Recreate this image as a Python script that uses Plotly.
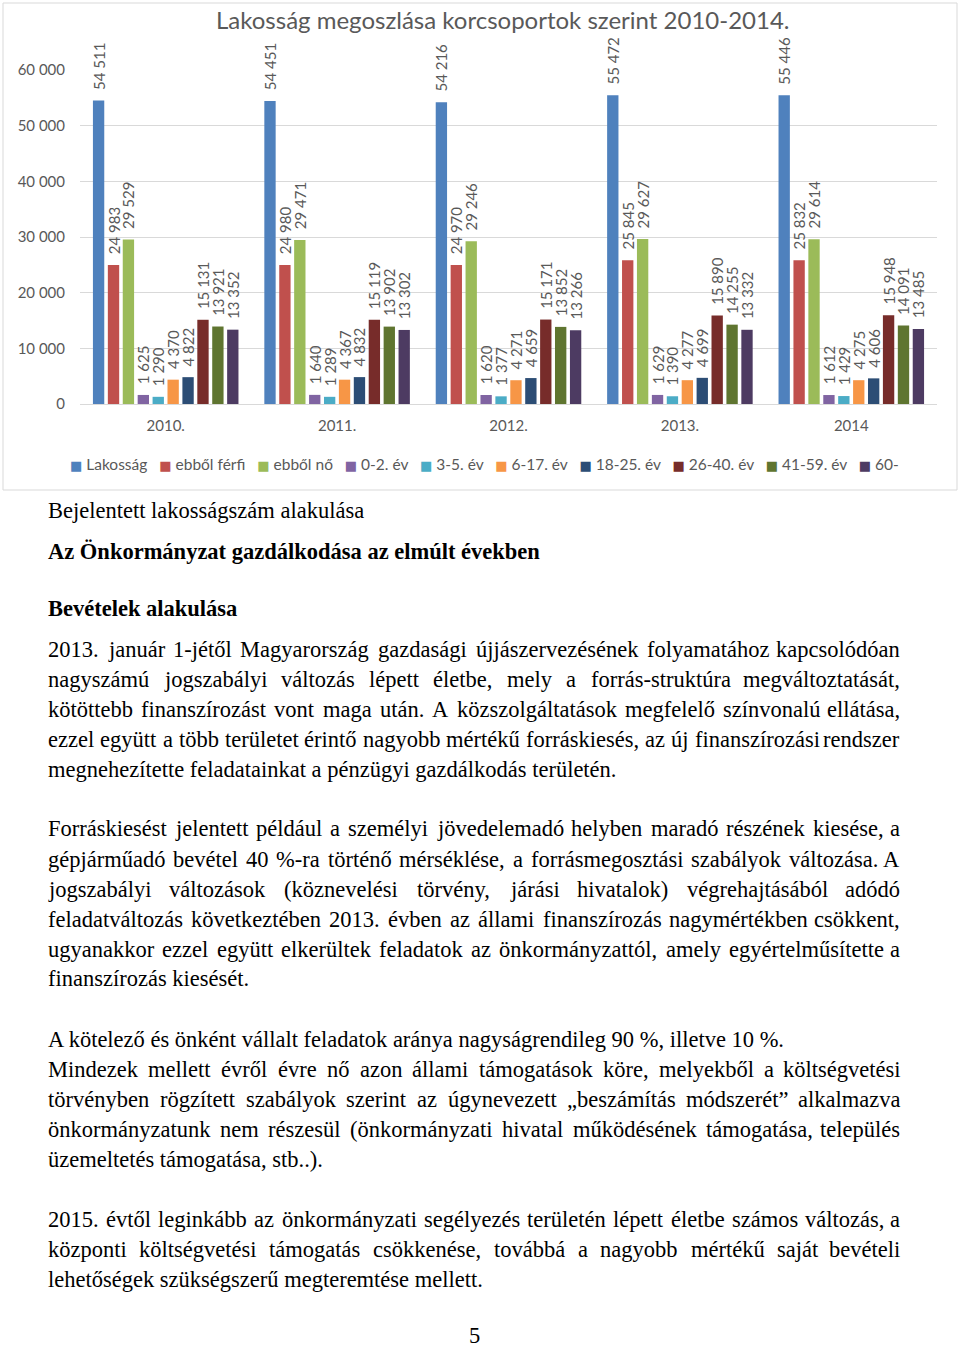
import plotly.graph_objects as go

W, H = 960, 1348

# ---------------- chart data ----------------
years = ["2010.", "2011.", "2012.", "2013.", "2014"]
series_names = ["Lakosság", "ebből férfi", "ebből nő", "0-2. év", "3-5. év",
                "6-17. év", "18-25. év", "26-40. év", "41-59. év", "60-"]
lakossag = [54511, 54451, 54216, 55472, 55446]
ferfi = [24983, 24980, 24970, 25845, 25832]
no = [29529, 29471, 29246, 29627, 29614]
ev_0_2 = [1625, 1640, 1620, 1629, 1612]
ev_3_5 = [1290, 1289, 1377, 1390, 1429]
ev_6_17 = [4370, 4367, 4271, 4277, 4275]
ev_18_25 = [4822, 4832, 4659, 4699, 4606]
ev_26_40 = [15131, 15119, 15171, 15890, 15948]
ev_41_59 = [13921, 13902, 13852, 14255, 14091]
ev_60 = [13352, 13302, 13266, 13332, 13485]
y_ticks = [0, 10000, 20000, 30000, 40000, 50000, 60000]

series_values = [lakossag, ferfi, no, ev_0_2, ev_3_5, ev_6_17, ev_18_25, ev_26_40, ev_41_59, ev_60]
colors = ["#4F81BD", "#C0504D", "#9BBB59", "#8064A2", "#4BACC6",
          "#F79646", "#2C4D75", "#772C2A", "#5F7530", "#4D3B62"]

chart_title = "Lakosság megoszlása korcsoportok szerint 2010-2014."

# ---------------- document text ----------------
heading1 = "Bejelentett lakosságszám alakulása"
heading2 = "Az Önkormányzat gazdálkodása az elmúlt években"
heading3 = "Bevételek alakulása"
paragraphs = [
    ["2013. január 1-jétől Magyarország gazdasági újjászervezésének folyamatához kapcsolódóan",
     "nagyszámú jogszabályi változás lépett életbe, mely a forrás-struktúra megváltoztatását,",
     "kötöttebb finanszírozást vont maga után. A közszolgáltatások megfelelő színvonalú ellátása,",
     "ezzel együtt a több területet érintő nagyobb mértékű forráskiesés, az új finanszírozási rendszer",
     "megnehezítette feladatainkat a pénzügyi gazdálkodás területén."],
    ["Forráskiesést jelentett például a személyi jövedelemadó helyben maradó részének kiesése, a",
     "gépjárműadó bevétel 40 %-ra történő mérséklése, a forrásmegosztási szabályok változása. A",
     "jogszabályi változások (köznevelési törvény, járási hivatalok) végrehajtásából adódó",
     "feladatváltozás következtében 2013. évben az állami finanszírozás nagymértékben csökkent,",
     "ugyanakkor ezzel együtt elkerültek feladatok az önkormányzattól, amely egyértelműsítette a",
     "finanszírozás kiesését."],
    ["A kötelező és önként vállalt feladatok aránya nagyságrendileg 90 %, illetve 10 %.",
     "Mindezek mellett évről évre nő azon állami támogatások köre, melyekből a költségvetési",
     "törvényben rögzített szabályok szerint az úgynevezett „beszámítás módszerét” alkalmazva",
     "önkormányzatunk nem részesül (önkormányzati hivatal működésének támogatása, település",
     "üzemeltetés támogatása, stb..)."],
    ["2015. évtől leginkább az önkormányzati segélyezés területén lépett életbe számos változás, a",
     "központi költségvetési támogatás csökkenése, továbbá a nagyobb mértékű saját bevételi",
     "lehetőségek szükségszerű megteremtése mellett."],
]
# lines that end a paragraph or carry a hard break are left aligned
left_aligned = {(0, 4), (1, 5), (2, 0), (2, 4), (3, 2)}
para_line_y = [[649, 679, 709, 739, 769],
               [829, 859, 889, 919, 949, 979],
               [1039, 1069, 1099, 1129, 1159],
               [1219, 1249, 1279]]
page_number = "5"

# ---------------- helpers ----------------
def px(x):
    return x / W


def py(y):
    return 1 - y / H


CHART_FONT = "Lato, 'Open Sans', sans-serif"
GRAY = "#595959"
SERIF = "Liberation Serif, Times New Roman, serif"
FS = 22.5

# Times New Roman advance widths (per 1000 em)
TW = {' ': 250, ',': 250, '.': 250, '-': 333, '(': 333, ')': 333, '%': 833,
      '„': 444, '”': 444, ':': 278}
for ch in "0123456789":
    TW[ch] = 500
for group, w in [("aáceéz", 444), ("bdghknopquvxyóöőúüű", 500), ("fr", 333),
                 ("ijltí", 278), ("s", 389), ("m", 778), ("w", 722),
                 ("A", 722), ("B", 667), ("F", 556), ("M", 889)]:
    for ch in group:
        TW[ch] = w


def text_width(s, size):
    return sum(TW.get(c, 500) for c in s) * size / 1000.0


fig = go.Figure()

for name, vals, col in zip(series_names, series_values, colors):
    fig.add_trace(go.Bar(
        name=name, x=years, y=vals, marker=dict(color=col, line=dict(width=0)),
        texttemplate="\u00a0\u00a0%{y:,d}", textposition="outside", textangle=-90,
        textfont=dict(family=CHART_FONT, size=15, color=GRAY),
        cliponaxis=False, constraintext="none", showlegend=False,
    ))

annotations = []

# chart title
annotations.append(dict(text=chart_title, x=px(503), y=py(20), xref="paper", yref="paper",
                        showarrow=False, xanchor="center", yanchor="middle",
                        font=dict(family=CHART_FONT, size=24, color=GRAY)))

# custom legend (single line)
items = [f"<span style='color:{c};font-family:DejaVu Sans;font-size:13px'>■</span>\u00a0{n}"
         for n, c in zip(series_names, colors)]
legend_text = "\u00a0\u00a0\u00a0".join(items)
annotations.append(dict(text=legend_text, x=px(484), y=py(464), xref="paper", yref="paper",
                        showarrow=False, xanchor="center", yanchor="middle",
                        font=dict(family=CHART_FONT, size=15.5, color=GRAY)))

# headings
for txt, yy, bold in [(heading1, 511, False), (heading2, 552, True), (heading3, 608, True)]:
    annotations.append(dict(text=(f"<b>{txt}</b>" if bold else txt), x=px(47), y=py(yy),
                            xref="paper", yref="paper", showarrow=False, xanchor="left",
                            yanchor="middle", borderpad=0,
                            font=dict(family=SERIF, size=FS, color="#000000")))

LEFT, RIGHT = 47, 901
for pi, (para, ys) in enumerate(zip(paragraphs, para_line_y)):
    for li, (line, yy) in enumerate(zip(para, ys)):
        if (pi, li) in left_aligned:
            annotations.append(dict(text=line, x=px(LEFT), y=py(yy), xref="paper", yref="paper",
                                    showarrow=False, xanchor="left", yanchor="middle", borderpad=0,
                                    font=dict(family=SERIF, size=FS, color="#000000")))
            continue
        words = line.split(" ")
        widths = [text_width(w, FS) for w in words]
        gap = (RIGHT - LEFT - sum(widths)) / (len(words) - 1)
        xcur = LEFT
        for k, (w, ww) in enumerate(zip(words, widths)):
            if k == len(words) - 1:
                annotations.append(dict(text=w, x=px(RIGHT), y=py(yy), xref="paper", yref="paper",
                                        showarrow=False, xanchor="right", yanchor="middle", borderpad=0,
                                        font=dict(family=SERIF, size=FS, color="#000000")))
            else:
                annotations.append(dict(text=w, x=px(xcur), y=py(yy), xref="paper", yref="paper",
                                        showarrow=False, xanchor="left", yanchor="middle", borderpad=0,
                                        font=dict(family=SERIF, size=FS, color="#000000")))
            xcur += ww + gap

annotations.append(dict(text=page_number, x=px(474), y=py(1335), xref="paper", yref="paper",
                        showarrow=False, xanchor="center", yanchor="middle", borderpad=0,
                        font=dict(family=SERIF, size=FS, color="#000000")))

fig.update_layout(
    width=W, height=H, margin=dict(l=0, r=0, t=0, b=0, pad=0, autoexpand=False),
    paper_bgcolor="white", plot_bgcolor="white",
    barmode="group", bargap=0.13, bargroupgap=0.24,
    separators=", ",
    showlegend=False,
    annotations=annotations,
    shapes=[dict(type="rect", xref="paper", yref="paper", x0=px(3), x1=px(957),
                 y0=py(490), y1=py(3), line=dict(color="#D9D9D9", width=1), fillcolor="rgba(0,0,0,0)")],
    xaxis=dict(domain=[px(80), px(937)], showgrid=False, showline=True, linecolor="#D9D9D9",
               linewidth=1, ticks="", ticklabelstandoff=8, automargin=False,
               tickfont=dict(family=CHART_FONT, size=15, color=GRAY)),
    yaxis=dict(domain=[py(404), py(70)], range=[0, 60000], tickvals=y_ticks, tickformat=",d",
               showgrid=True, gridcolor="#D9D9D9", gridwidth=1, zeroline=False, showline=False,
               ticks="", ticklabelstandoff=14, automargin=False,
               tickfont=dict(family=CHART_FONT, size=15, color=GRAY)),
)

fig.write_html("out.html")
